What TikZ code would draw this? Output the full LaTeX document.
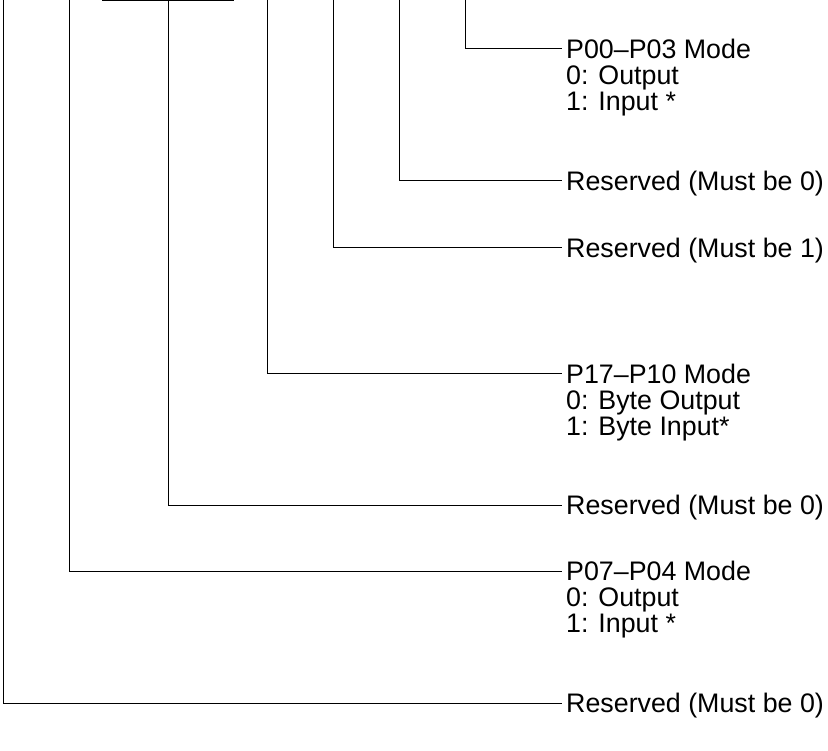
\documentclass[tikz,border=0pt]{standalone}
\usepackage{fontspec}
\setmainfont{Liberation Sans}
\usetikzlibrary{positioning}
\tikzset{
	bitline/.style={
			draw=black,
			line width=1pt
		},
	labelnode/.style={
			anchor=west,
			inner xsep=4pt,
			inner ysep=0pt,
			text height=20pt,
			text depth=1pt,
			font=\fontsize{26.8}{28}\selectfont
		}
}

\begin{document}
\begin{tikzpicture}[x=1pt,y=-1pt]

              \useasboundingbox (0,0) rectangle (828,751);

              \coordinate (b7) at (3.5,0);
              \coordinate (b6) at (69.5,0);
              \coordinate (b5) at (102,1);
              \coordinate (b4) at (234,1);
              \coordinate (b54) at (168.5,1);
              \coordinate (b3) at (267.5,0);
              \coordinate (b2) at (333.5,0);
              \coordinate (b1) at (399.5,0);
              \coordinate (b0) at (465.5,0);

              \node[labelnode] (m0) at (562,49) {P00–P03 Mode};
              \node[labelnode] (m0a) at (562,75) {0: Output};
              \node[labelnode] (m0b) at (562,101) {1: Input *};

              \node[labelnode] (r1) at (562,181) {Reserved (Must be 0)};

              \node[labelnode] (r2) at (562,248) {Reserved (Must be 1)};

              \node[labelnode] (m1) at (562,374) {P17–P10 Mode};
              \node[labelnode] (m1a) at (562,400) {0: Byte Output};
              \node[labelnode] (m1b) at (562,426) {1: Byte Input*};

              \node[labelnode] (r3) at (562,505) {Reserved (Must be 0)};

              \node[labelnode] (m2) at (562,571) {P07–P04 Mode};
              \node[labelnode] (m2a) at (562,597) {0: Output};
              \node[labelnode] (m2b) at (562,623) {1: Input *};

              \node[labelnode] (r4) at (562,703) {Reserved (Must be 0)};

              \draw[bitline] (b5) -- (b4);
              \draw[bitline] (b0) |- (m0.west);
              \draw[bitline] (b1) |- (r1.west);
              \draw[bitline] (b2) |- (r2.west);
              \draw[bitline] (b3) |- (m1.west);
              \draw[bitline] (b54) |- (r3.west);
              \draw[bitline] (b6) |- (m2.west);
              \draw[bitline] (b7) |- (r4.west);

            \end{tikzpicture}
\end{document}
